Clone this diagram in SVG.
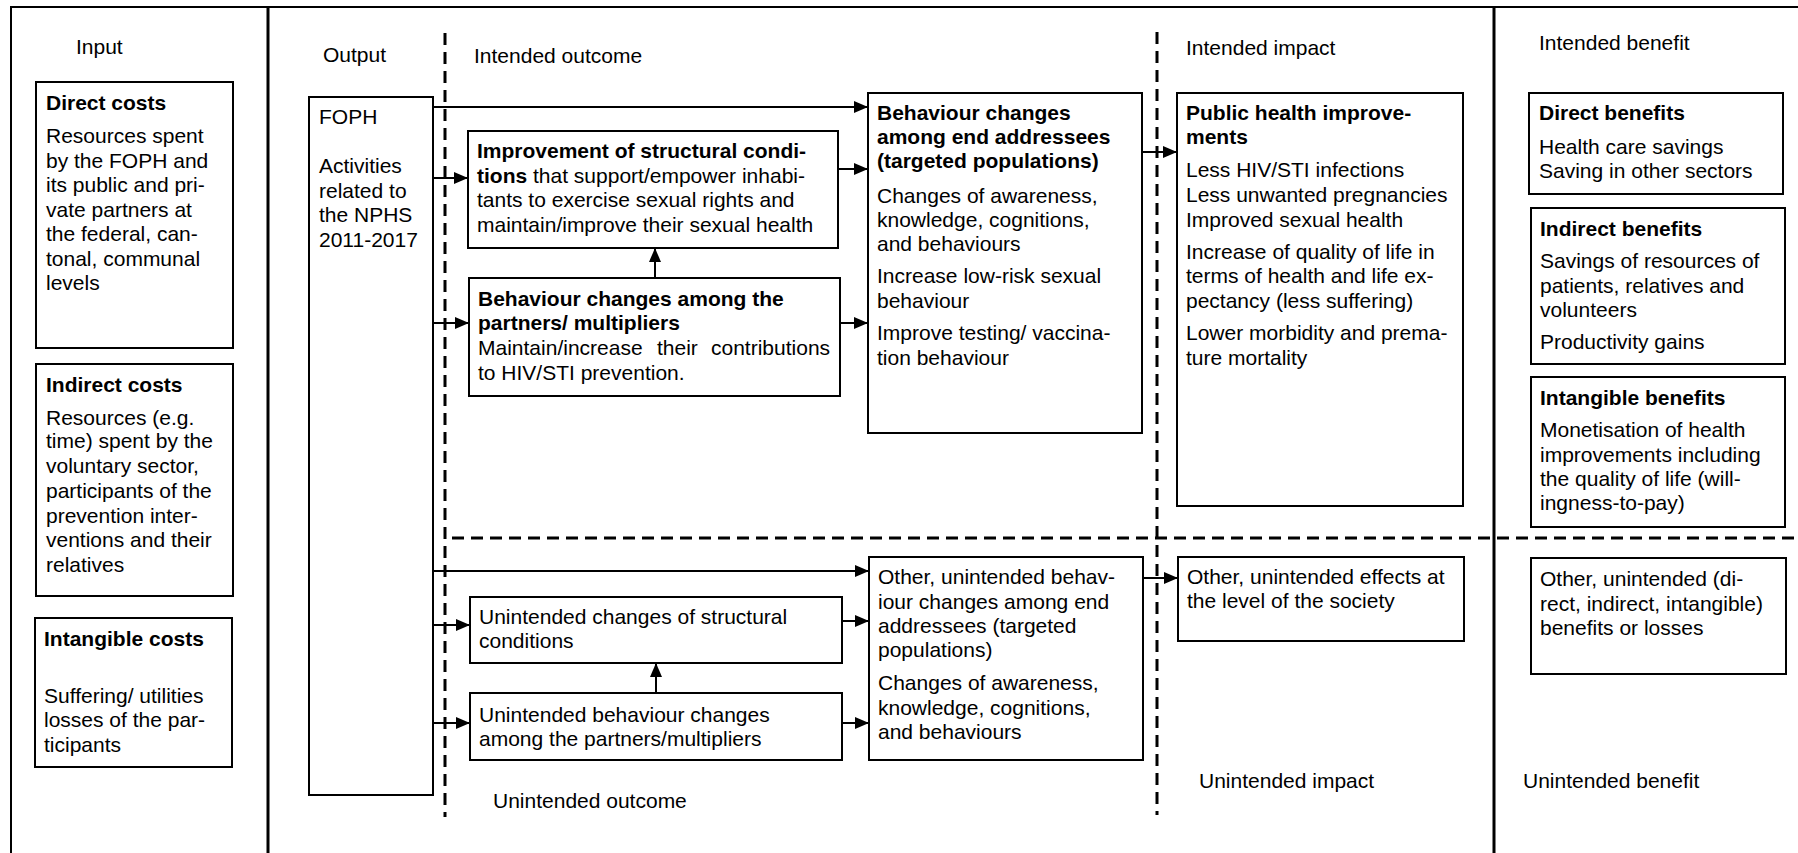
<svg xmlns="http://www.w3.org/2000/svg" width="1798" height="853" viewBox="0 0 1798 853">
<style>
text{font-family:"Liberation Sans",Arial,sans-serif;font-size:21px;fill:#000}
.b{font-weight:bold}
.box{fill:#fff;stroke:#000;stroke-width:2}
.frame{fill:none;stroke:#000;stroke-width:3}
.thin{fill:none;stroke:#000;stroke-width:2}
.dash{fill:none;stroke:#000;stroke-width:3;stroke-dasharray:12 7}
.conn{fill:none;stroke:#000;stroke-width:2;marker-end:url(#ah)}
</style>
<defs>
<marker id="ah" markerUnits="userSpaceOnUse" markerWidth="14" markerHeight="12" refX="14" refY="6" orient="auto">
<path d="M0,0 L14,6 L0,12 z" fill="#000"/>
</marker>
</defs>
<rect width="1798" height="853" fill="#fff"/>
<g id="frame">
<path class="thin" d="M11,853 V7 H1798"/>
<path class="frame" d="M268,7 V853 M1494,7 V853"/>
<path class="dash" d="M445,33 V817 M1157,32 V815 M452,538 H1798"/>
</g>
<g id="labels">
<text x="76" y="54">Input</text>
<text x="323" y="62">Output</text>
<text x="474" y="63">Intended outcome</text>
<text x="1186" y="55">Intended impact</text>
<text x="1539" y="50">Intended benefit</text>
<text x="493" y="808">Unintended outcome</text>
<text x="1199" y="788">Unintended impact</text>
<text x="1523" y="788">Unintended benefit</text>
</g>
<g id="direct-costs">
<rect class="box" x="36" y="82" width="197" height="266"/>
<text x="46" y="110" class="b">Direct costs</text>
<text x="46" y="143">Resources spent</text>
<text x="46" y="168">by the FOPH and</text>
<text x="46" y="192">its public and pri-</text>
<text x="46" y="217">vate partners at</text>
<text x="46" y="241">the federal, can-</text>
<text x="46" y="266">tonal, communal</text>
<text x="46" y="290">levels</text>
</g>
<g id="indirect-costs">
<rect class="box" x="36" y="364" width="197" height="232"/>
<text x="46" y="392" class="b">Indirect costs</text>
<text x="46" y="425">Resources (e.g.</text>
<text x="46" y="448">time) spent by the</text>
<text x="46" y="473">voluntary sector,</text>
<text x="46" y="498">participants of the</text>
<text x="46" y="523">prevention inter-</text>
<text x="46" y="547">ventions and their</text>
<text x="46" y="572">relatives</text>
</g>
<g id="intangible-costs">
<rect class="box" x="35" y="618" width="197" height="149"/>
<text x="44" y="646" class="b">Intangible costs</text>
<text x="44" y="703">Suffering/ utilities</text>
<text x="44" y="727">losses of the par-</text>
<text x="44" y="752">ticipants</text>
</g>
<g id="foph">
<rect class="box" x="309" y="97" width="124" height="698"/>
<text x="319" y="124">FOPH</text>
<text x="319" y="173">Activities</text>
<text x="319" y="198">related to</text>
<text x="319" y="222">the NPHS</text>
<text x="319" y="247">2011-2017</text>
</g>
<g id="structural">
<rect class="box" x="468" y="131" width="370" height="117"/>
<text x="477" y="158" class="b">Improvement of structural condi-</text>
<text x="477" y="183"><tspan class="b">tions</tspan> that support/empower inhabi-</text>
<text x="477" y="207">tants to exercise sexual rights and</text>
<text x="477" y="232">maintain/improve their sexual health</text>
</g>
<g id="partners">
<rect class="box" x="469" y="278" width="371" height="118"/>
<text x="478" y="306" class="b">Behaviour changes among the</text>
<text x="478" y="330" class="b">partners/ multipliers</text>
<text y="355"><tspan x="478">Maintain/increase</tspan><tspan x="657">their</tspan><tspan x="711">contributions</tspan></text>
<text x="478" y="380">to HIV/STI prevention.</text>
</g>
<g id="end-addressees">
<rect class="box" x="868" y="93" width="274" height="340"/>
<text x="877" y="120" class="b">Behaviour changes</text>
<text x="877" y="144" class="b">among end addressees</text>
<text x="877" y="168" class="b">(targeted populations)</text>
<text x="877" y="203">Changes of awareness,</text>
<text x="877" y="227">knowledge, cognitions,</text>
<text x="877" y="251">and behaviours</text>
<text x="877" y="283">Increase low-risk sexual</text>
<text x="877" y="308">behaviour</text>
<text x="877" y="340">Improve testing/ vaccina-</text>
<text x="877" y="365">tion behaviour</text>
</g>
<g id="public-health">
<rect class="box" x="1177" y="93" width="286" height="413"/>
<text x="1186" y="120" class="b">Public health improve-</text>
<text x="1186" y="144" class="b">ments</text>
<text x="1186" y="177">Less HIV/STI infections</text>
<text x="1186" y="202">Less unwanted pregnancies</text>
<text x="1186" y="227">Improved sexual health</text>
<text x="1186" y="259">Increase of quality of life in</text>
<text x="1186" y="283">terms of health and life ex-</text>
<text x="1186" y="308">pectancy (less suffering)</text>
<text x="1186" y="340">Lower morbidity and prema-</text>
<text x="1186" y="365">ture mortality</text>
</g>
<g id="direct-benefits">
<rect class="box" x="1529" y="93" width="254" height="101"/>
<text x="1539" y="120" class="b">Direct benefits</text>
<text x="1539" y="154">Health care savings</text>
<text x="1539" y="178">Saving in other sectors</text>
</g>
<g id="indirect-benefits">
<rect class="box" x="1531" y="208" width="254" height="156"/>
<text x="1540" y="236" class="b">Indirect benefits</text>
<text x="1540" y="268">Savings of resources of</text>
<text x="1540" y="293">patients, relatives and</text>
<text x="1540" y="317">volunteers</text>
<text x="1540" y="349">Productivity gains</text>
</g>
<g id="intangible-benefits">
<rect class="box" x="1531" y="377" width="254" height="150"/>
<text x="1540" y="405" class="b">Intangible benefits</text>
<text x="1540" y="437">Monetisation of health</text>
<text x="1540" y="462">improvements including</text>
<text x="1540" y="486">the quality of life (will-</text>
<text x="1540" y="510">ingness-to-pay)</text>
</g>
<g id="unintended-structural">
<rect class="box" x="470" y="597" width="372" height="66"/>
<text x="479" y="624">Unintended changes of structural</text>
<text x="479" y="648">conditions</text>
</g>
<g id="unintended-partners">
<rect class="box" x="470" y="693" width="372" height="67"/>
<text x="479" y="722">Unintended behaviour changes</text>
<text x="479" y="746">among the partners/multipliers</text>
</g>
<g id="unintended-end-addressees">
<rect class="box" x="869" y="557" width="274" height="203"/>
<text x="878" y="584">Other, unintended behav-</text>
<text x="878" y="609">iour changes among end</text>
<text x="878" y="633">addressees (targeted</text>
<text x="878" y="657">populations)</text>
<text x="878" y="690">Changes of awareness,</text>
<text x="878" y="715">knowledge, cognitions,</text>
<text x="878" y="739">and behaviours</text>
</g>
<g id="unintended-society">
<rect class="box" x="1178" y="557" width="286" height="84"/>
<text x="1187" y="584">Other, unintended effects at</text>
<text x="1187" y="608">the level of the society</text>
</g>
<g id="unintended-benefits">
<rect class="box" x="1531" y="558" width="255" height="116"/>
<text x="1540" y="586">Other, unintended (di-</text>
<text x="1540" y="611">rect, indirect, intangible)</text>
<text x="1540" y="635">benefits or losses</text>
</g>
<g id="connectors">
<path class="conn" d="M433,107 H868"/>
<path class="conn" d="M433,178 H468"/>
<path class="conn" d="M433,323 H469"/>
<path class="conn" d="M838,169 H868"/>
<path class="conn" d="M840,323 H868"/>
<path class="conn" d="M655,278 V248"/>
<path class="conn" d="M1142,152 H1177"/>
<path class="conn" d="M433,571 H869"/>
<path class="conn" d="M433,625 H470"/>
<path class="conn" d="M842,621 H869"/>
<path class="conn" d="M842,723 H869"/>
<path class="conn" d="M433,723 H470"/>
<path class="conn" d="M656,693 V663"/>
<path class="conn" d="M1143,578 H1178"/>
</g>
</svg>
